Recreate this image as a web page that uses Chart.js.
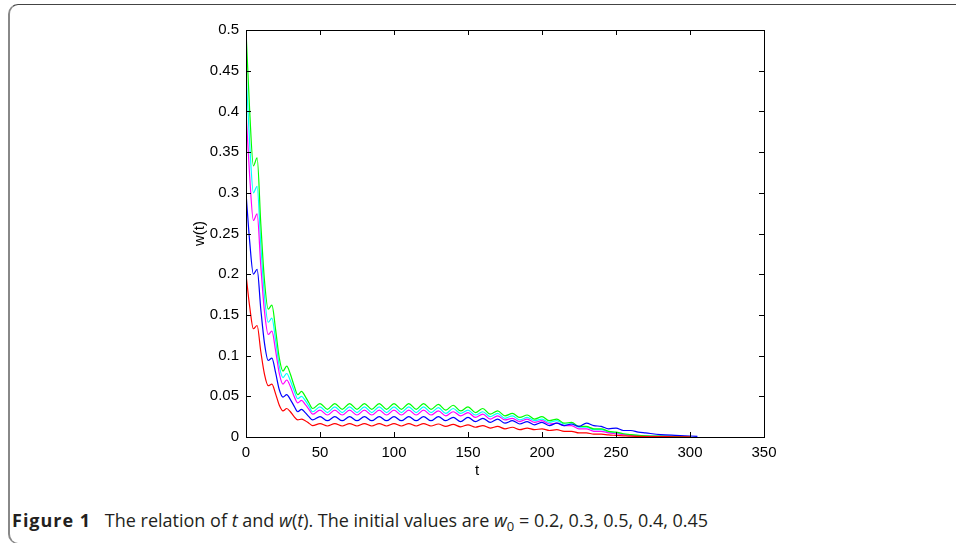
<!DOCTYPE html>
<html>
<head>
<meta charset="utf-8">
<script src="https://cdn.jsdelivr.net/npm/chart.js@4.4.1/dist/chart.umd.min.js"></script>
<style>
  html, body { margin: 0; padding: 0; background: #fff; }
  body { width: 956px; height: 543px; position: relative; overflow: hidden; }
  #frame { position: absolute; left: 8px; top: 4px; width: 1000px; height: 540px;
           border-top: 1px solid #444; border-left: 2px solid #888; border-bottom: 1px solid #888;
           border-radius: 10px 0 0 10px; box-sizing: border-box; }
  #wrap { position: absolute; left: 0; top: 0; width: 956px; height: 480px; }
  #xtitle { position: absolute; left: 472px; top: 461px; width: 10px; text-align: center;
            font-family: 'Liberation Sans', Arial, sans-serif; font-size: 15px; color: #000; }
  #caption { position: absolute; left: 12px; top: 508px; font-family: "Open Sans", "Noto Sans", sans-serif;
             font-size: 18px; color: #231f20; white-space: nowrap; line-height: 24px; }
  #caption b { font-weight: 700; margin-right: 9px; letter-spacing: 1px; }
  #caption sub { font-size: 13px; vertical-align: -4px; line-height: 0; }
</style>
</head>
<body>
<div id="frame"></div>
<div id="wrap"><canvas id="c" width="956" height="480"></canvas></div>
<div id="xtitle">t</div>
<div id="caption"><b>Figure 1</b> The relation of <i>t</i> and <i>w</i>(<i>t</i>). The initial values are <i>w</i><sub>0</sub> = 0.2, 0.3, 0.5, 0.4, 0.45</div>
<script>
const t = [0,2.5,5,7.5,10,12.5,15,17.5,20,22.5,25,27.5,30,32.5,35,37.5,40,42.5,45,
  50,55,60,65,70,75,80,85,90,95,100,105,110,115,120,125,130,135,140,145,150,155,160,165,170,175,180,
  185,190,195,200,205,210,215,220,225,230,235,240,245,250,255,260,265,270,280,290,300,305];

const w_05 = [0.500,0.400,0.333,0.343,0.262,0.192,0.157,0.162,0.132,0.097,0.081,0.087,0.077,0.063,0.052,0.056,0.050,0.042,0.035,
  0.041,0.034,0.041,0.034,0.041,0.034,0.041,0.034,0.041,0.034,0.041,0.034,0.041,0.034,0.041,0.034,0.040,0.033,0.039,0.032,0.037,0.030,0.035,0.028,0.032,0.026,0.029,
  0.024,0.027,0.022,0.025,0.020,0.022,0.017,0.018,0.013,0.013,0.010,0.010,0.007,0.006,0.004,0.003,0.002,0.0015,0.001,0.0007,0.0005,null];

const w_045 = [0.450,0.360,0.300,0.308,0.236,0.173,0.141,0.146,0.119,0.087,0.073,0.078,0.069,0.057,0.047,0.050,0.045,0.038,0.031,
  0.037,0.030,0.037,0.030,0.037,0.030,0.037,0.030,0.037,0.030,0.037,0.030,0.037,0.030,0.037,0.030,0.036,0.029,0.035,0.029,0.033,0.027,0.031,0.025,0.029,0.023,0.026,
  0.021,0.024,0.020,0.022,0.018,0.020,0.016,0.016,0.012,0.012,0.009,0.009,0.006,0.005,0.0035,0.0025,0.002,0.0015,0.001,0.0007,0.0005,null];

const w_04 = [0.400,0.320,0.266,0.274,0.210,0.154,0.126,0.130,0.106,0.078,0.065,0.070,0.062,0.050,0.042,0.045,0.040,0.034,0.028,
  0.033,0.027,0.033,0.027,0.033,0.027,0.033,0.027,0.033,0.027,0.033,0.027,0.033,0.027,0.033,0.027,0.032,0.026,0.031,0.026,0.030,0.024,0.028,0.022,0.026,0.021,0.023,
  0.019,0.022,0.018,0.020,0.016,0.017,0.014,0.014,0.010,0.010,0.007,0.007,0.005,0.004,0.003,0.002,0.0015,0.001,0.0008,0.0005,0.0003,null];

const w_03 = [0.300,0.240,0.200,0.206,0.157,0.115,0.094,0.097,0.079,0.058,0.049,0.052,0.046,0.038,0.031,0.034,0.030,0.025,0.021,
  0.025,0.020,0.025,0.020,0.025,0.020,0.025,0.020,0.025,0.020,0.025,0.020,0.025,0.020,0.025,0.020,0.025,0.020,0.024,0.019,0.024,0.019,0.023,0.018,0.022,0.017,0.020,
  0.016,0.019,0.015,0.018,0.014,0.017,0.014,0.016,0.013,0.017,0.014,0.013,0.010,0.011,0.008,0.008,0.006,0.005,0.003,0.002,0.0012,0.0008];

const w_02 = [0.200,0.160,0.133,0.137,0.105,0.077,0.063,0.065,0.053,0.039,0.032,0.035,0.031,0.025,0.021,0.022,0.020,0.017,0.014,
  0.0165,0.0135,0.0165,0.0135,0.0165,0.0135,0.0165,0.0135,0.0165,0.0135,0.0165,0.0135,0.0165,0.0135,0.0165,0.0135,0.016,0.013,0.0155,0.0125,0.015,0.012,0.014,0.011,0.013,0.010,0.012,
  0.009,0.011,0.009,0.010,0.008,0.009,0.007,0.007,0.005,0.005,0.0035,0.0035,0.0025,0.002,0.0015,0.001,0.0008,0.0006,0.0004,0.0003,0.0002,null];

const yTicks = [0,0.05,0.1,0.15,0.2,0.25,0.3,0.35,0.4,0.45,0.5];
const xTicks = [0,50,100,150,200,250,300,350];
const yTickLabels = ["0","0.05","0.1","0.15","0.2","0.25","0.3","0.35","0.4","0.45","0.5"];
const xTickLabels = ["0","50","100","150","200","250","300","350"];

const series = [
  {label: "w0=0.2", data: w_02, color: "#ff0000"},
  {label: "w0=0.3", data: w_03, color: "#0000ff"},
  {label: "w0=0.5", data: w_05, color: "#00ff00"},
  {label: "w0=0.4", data: w_04, color: "#ff00ff"},
  {label: "w0=0.45", data: w_045, color: "#00ffff"}
];

const boxTicks = {
  id: 'boxTicks',
  afterDraw(chart) {
    const {ctx, chartArea: a, scales: {x, y}} = chart;
    ctx.save();
    ctx.strokeStyle = '#000';
    ctx.lineWidth = 1;
    ctx.strokeRect(Math.round(a.left)+0.5, Math.round(a.top)+0.5, Math.round(a.right-a.left), Math.round(a.bottom-a.top));
    const L = 5;
    ctx.beginPath();
    xTicks.forEach(v => {
      const px = Math.round(x.getPixelForValue(v)) + 0.5;
      ctx.moveTo(px, a.bottom); ctx.lineTo(px, a.bottom - L);
      ctx.moveTo(px, a.top); ctx.lineTo(px, a.top + L);
    });
    yTicks.forEach(v => {
      const py = Math.round(y.getPixelForValue(v)) + 0.5;
      ctx.moveTo(a.left, py); ctx.lineTo(a.left + L, py);
      ctx.moveTo(a.right, py); ctx.lineTo(a.right - L, py);
    });
    ctx.stroke();
    ctx.restore();
  }
};

const tickFont = {family: "'Liberation Sans', Arial, sans-serif", size: 15};

new Chart(document.getElementById('c'), {
  type: 'line',
  data: {
    datasets: series.map(s => ({
      label: s.label,
      data: t.map((tv, i) => ({x: tv, y: s.data[i]})),
      borderColor: s.color,
      backgroundColor: s.color,
      borderWidth: 1.2,
      pointRadius: 0,
      cubicInterpolationMode: 'monotone',
      fill: false,
      spanGaps: false
    }))
  },
  options: {
    responsive: false,
    animation: false,
    events: [],
    layout: {padding: {left: 160, top: 30, right: 192, bottom: 0}},
    plugins: {legend: {display: false}, tooltip: {enabled: false}},
    scales: {
      x: {
        type: 'linear', min: 0, max: 350,
        grid: {display: false, drawTicks: false},
        border: {display: false},
        afterBuildTicks: s => { s.ticks = xTicks.map(v => ({value: v})); },
        afterFit: s => { s.height = 43; },
        ticks: {font: tickFont, color: '#000', padding: 7, maxRotation: 0,
                callback: (v) => xTickLabels[xTicks.indexOf(v)]},
        title: {display: false}
      },
      y: {
        type: 'linear', min: 0, max: 0.5,
        grid: {display: false, drawTicks: false},
        border: {display: false},
        afterBuildTicks: s => { s.ticks = yTicks.map(v => ({value: v})); },
        afterFit: s => { s.width = 86; },
        ticks: {font: tickFont, color: '#000', padding: 7,
                callback: (v) => yTickLabels[yTicks.indexOf(v)]},
        title: {display: true, text: 'w(t)', font: tickFont, color: '#000', padding: {top: 31, bottom: 0}}
      }
    }
  },
  plugins: [boxTicks]
});
</script>
</body>
</html>
